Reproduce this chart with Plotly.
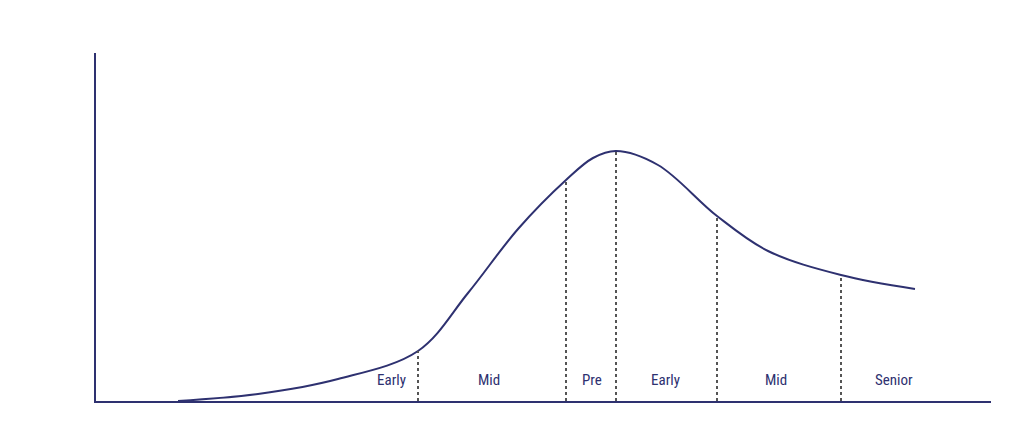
import plotly.graph_objects as go

C = "#2e3170"
# horizontal positions of the (non-linear) age scale
ages = ["25", "45", "55", "65", "75", "85"]
age_pos = [175, 410, 558, 608, 709, 833]
# wealth curve
curve_x = [170, 250, 330, 410, 460, 510, 558, 585, 608, 650, 709, 760, 833, 907]
curve_y = [0, 7, 22, 50, 108, 172, 221, 243, 250, 236, 185, 150, 126, 112]
marker_x = [410, 558, 608, 709, 833]
marker_y = [50, 221, 250, 185, 126]
phases = ["Early", "Mid", "Pre", "Early", "Mid", "Senior"]
phase_x = [383, 481, 584, 657, 768, 886]

fig = go.Figure()
fig.add_trace(go.Scatter(x=curve_x, y=curve_y, mode="lines",
                         line=dict(color=C, width=2, shape="spline", smoothing=1.0),
                         hoverinfo="skip"))
for mx, my in zip(marker_x, marker_y):
    fig.add_trace(go.Scatter(x=[mx, mx], y=[0, my], mode="lines",
                             line=dict(color="#555", width=2, dash="dot"), hoverinfo="skip"))

font = dict(family="Roboto Condensed, Roboto, sans-serif", color=C, size=15)
ann = []
for t, x in zip(phases, phase_x):
    ann.append(dict(x=x, y=21, text=t, showarrow=False, font=font))
for t, x in zip(ages, age_pos):
    ann.append(dict(x=x, y=-17, text=t, showarrow=False, font=dict(font, size=13)))
ann.append(dict(x=120, y=-17, text="Age:", showarrow=False, font=dict(font, size=13)))
ann.append(dict(x=50, y=168, text="Wealth", textangle=-90, showarrow=False, font=dict(font, size=16)))
ann.append(dict(x=48, y=313, ax=48, ay=235, axref="x", ayref="y", text="", showarrow=True,
                arrowhead=2, arrowsize=1.2, arrowwidth=2, arrowcolor=C))
ann.append(dict(x=48, y=25, ax=48, ay=108, axref="x", ayref="y", text="", showarrow=True,
                arrowhead=2, arrowsize=1.2, arrowwidth=2, arrowcolor=C))

fig.update_layout(
    width=1024, height=426, margin=dict(l=88, r=41, t=45, b=33),
    paper_bgcolor="white", plot_bgcolor="white", showlegend=False,
    annotations=ann,
    xaxis=dict(range=[88, 983], showgrid=False, zeroline=False, showticklabels=False,
               showline=True, linecolor=C, linewidth=2),
    yaxis=dict(range=[0, 348], showgrid=False, zeroline=False, showticklabels=False,
               showline=True, linecolor=C, linewidth=2),
)
fig.write_html("out.html")
